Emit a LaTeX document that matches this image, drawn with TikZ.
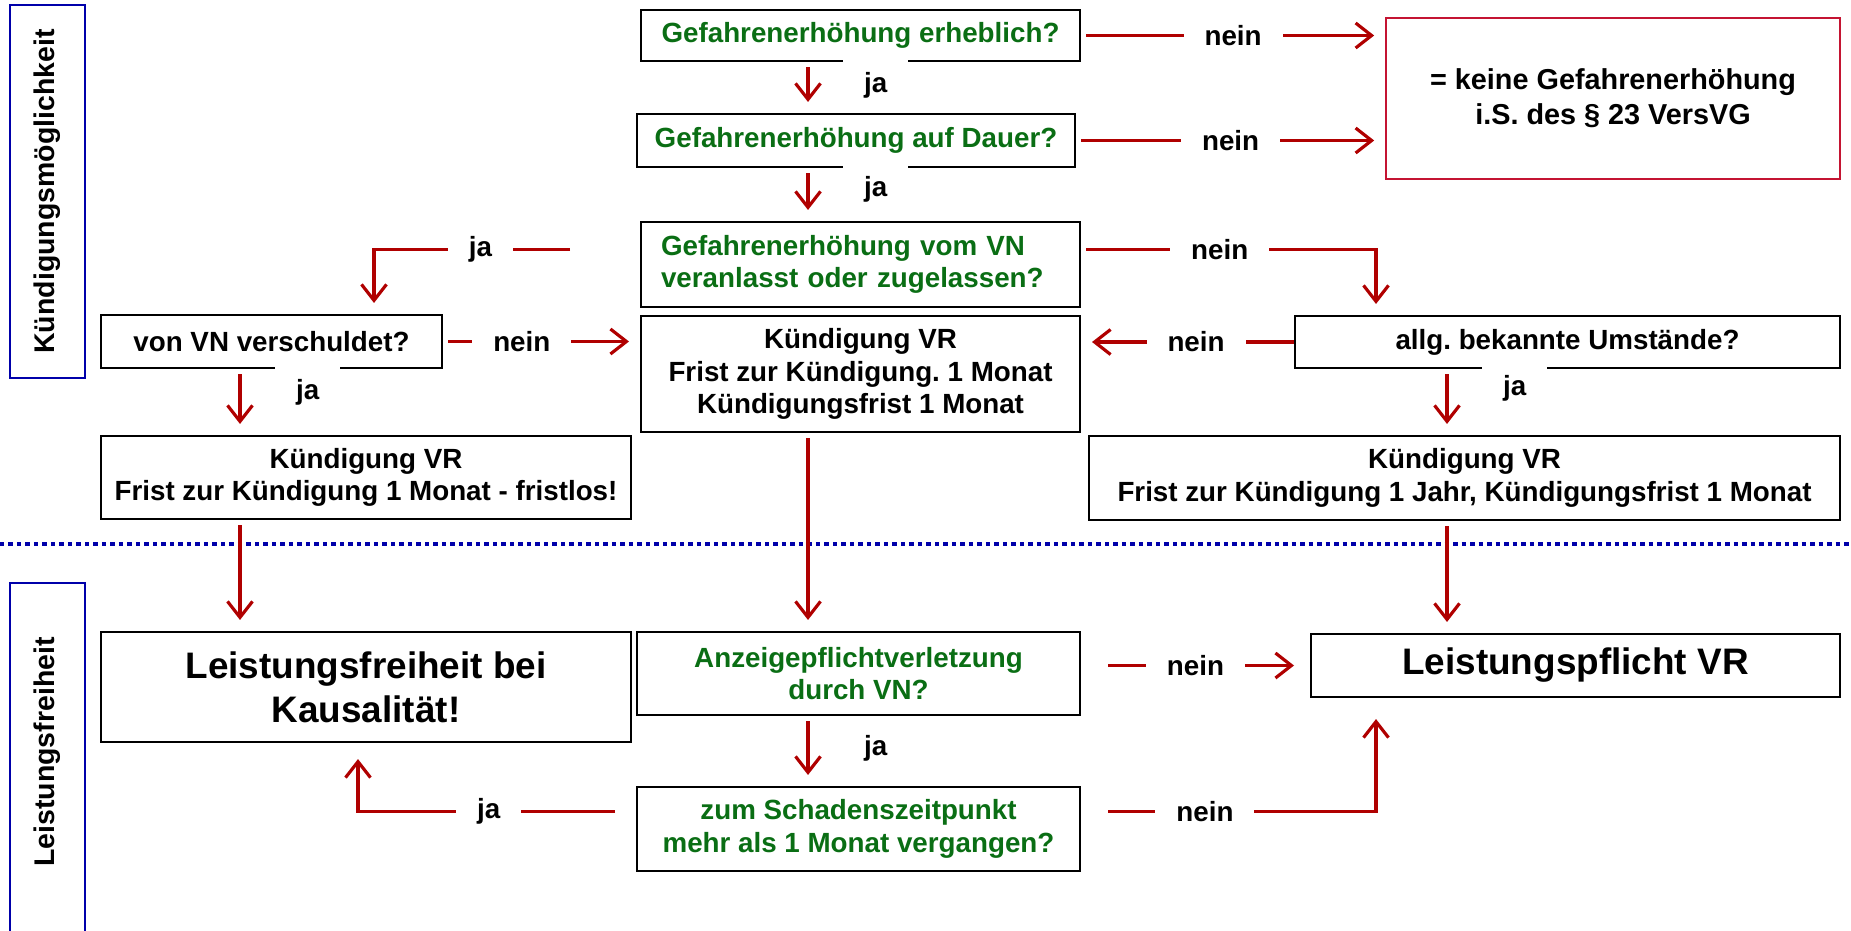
\documentclass[tikz,border=0pt]{standalone}
\usepackage{fontspec}
\setmainfont{Liberation Sans}
\usetikzlibrary{arrows.meta}
\usetikzlibrary{positioning}
\definecolor{arrowred}{RGB}{176,0,0}
\definecolor{boxred}{RGB}{196,20,50}
\definecolor{qgreen}{RGB}{10,110,20}
\definecolor{laneblue}{RGB}{0,0,170}
\frenchspacing

\begin{document}
\begin{tikzpicture}[x=0.02cm,y=-0.02cm,>={Straight Barb[length=0.32cm,width=0.5cm]},
    box/.style={draw,line width=1.2pt,inner sep=0pt,align=center,font=\bfseries\fontsize{15.8}{18.4}\selectfont},
    question/.style={box,text=qgreen},
    big box/.style={box,font=\bfseries\fontsize{21}{25}\selectfont},
    lane/.style={draw=laneblue,line width=1pt,inner sep=0pt,font=\bfseries\fontsize{16.2}{19}\selectfont},
    arr/.style={->,draw=arrowred,line width=1.8pt,shorten <=0.1cm,shorten >=0.22cm},
    lab/.style={fill=white,inner xsep=0.42cm,inner ysep=0pt,minimum width=1.3cm,minimum height=1.04cm,font=\bfseries\fontsize{15.8}{18.4}\selectfont}]
  \useasboundingbox (0,0) rectangle (1851,930);
  % columns for the vertical arrows
  \coordinate (xl) at (240,0);
  \coordinate (xj) at (374,0);
  \coordinate (xf) at (358,0);
  \coordinate (xa) at (808,0);
  \coordinate (xk) at (1376,0);
  \coordinate (xr) at (1447,0);
  % separator
  \draw[laneblue,line width=2.2pt,dash pattern=on 0.09cm off 0.08cm] (0,544) -- (1851,544);
  % lanes
  \node[lane,minimum width=1.5cm,minimum height=7.46cm] (s1) at (47.5,191.5) {\rotatebox{90}{Kündigungsmöglichkeit}};
  \node[lane,minimum width=1.5cm,minimum height=7.14cm] (s2) at (47.5,761.5) {};
  \node[font=\bfseries\fontsize{16.2}{19}\selectfont] (s2t) at (47.5,752) {\rotatebox{90}{Leistungsfreiheit}};
  % questions
  \node[question,minimum width=8.78cm,minimum height=1.02cm] (g1) at (860.5,35.5) {Gefahrenerhöhung erheblich?};
  \node[question,minimum width=8.76cm,minimum height=1.06cm] (g2) at (856,140.5) {Gefahrenerhöhung auf Dauer?};
  \node[question,text width=7.98cm,align=left,inner xsep=0.4cm,minimum height=1.7cm] (g3) at (860.5,264.5) {Gefahrenerhöhung vom VN\\veranlasst oder zugelassen?};
  \node[box,minimum width=6.82cm,minimum height=1.06cm] (vn) at (271.5,341.5) {von VN verschuldet?};
  \node[box,minimum width=10.9cm,minimum height=1.04cm] (au) at (1567.5,342) {allg. bekannte Umstände?};
  \node[question,minimum width=8.86cm,minimum height=1.66cm] (az) at (858.5,673.5) {Anzeigepflichtverletzung\\durch VN?};
  \node[question,minimum width=8.86cm,minimum height=1.68cm] (zs) at (858.5,829) {zum Schadenszeitpunkt\\mehr als 1 Monat vergangen?};
  % results
  \node[box,draw=boxred,line width=1pt,minimum width=9.08cm,minimum height=3.22cm,font=\bfseries\fontsize{16.4}{20}\selectfont] (rb) at (1613,98.5) {= keine Gefahrenerhöhung\\i.S. des § 23 VersVG};
  \node[box,minimum width=8.78cm,minimum height=2.32cm] (k1) at (860.5,374) {Kündigung VR\\Frist zur Kündigung. 1 Monat\\Kündigungsfrist 1 Monat};
  \node[box,minimum width=10.6cm,minimum height=1.66cm] (kl) at (366,477.5) {Kündigung VR\\Frist zur Kündigung 1 Monat - fristlos!};
  \node[box,minimum width=15.02cm,minimum height=1.68cm] (kr) at (1464.5,478) {Kündigung VR\\Frist zur Kündigung 1 Jahr, Kündigungsfrist 1 Monat};
  \node[big box,minimum width=10.6cm,minimum height=2.2cm] (lf) at (366,687) {Leistungsfreiheit bei\\Kausalität!};
  \node[big box,minimum width=10.58cm,minimum height=1.26cm] (lp) at (1575.5,665.5) {Leistungspflicht VR};
  % ja
  \draw[arr] (g1.south -| xa) -- node[lab,pos=0.45,right=0.67cm] {ja} (g2.north -| xa);
  \draw[arr] (g2.south -| xa) -- node[lab,pos=0.4,right=0.67cm] {ja} (g3.north -| xa);
  \draw[arr,shorten <=1.4cm] ([yshift=0.3cm]g3.west) -| node[lab,pos=0.3] {ja} (xj |- vn.north);
  \draw[arr] (vn.south -| xl) -- node[lab,pos=0.35,right=0.67cm] {ja} (kl.north -| xl);
  \draw[arr] (au.south -| xr) -- node[lab,pos=0.29,right=0.67cm] {ja} (kr.north -| xr);
  \draw[arr] (az.south -| xa) -- node[lab,pos=0.46,right=0.67cm] {ja} (zs.north -| xa);
  \draw[arr,shorten <=0.42cm,shorten >=0.32cm] ([yshift=0.35cm]zs.west) -| node[lab,pos=0.265] {ja} (xf |- lf.south);
  % nein
  \draw[arr] (g1.east) -- node[lab] {nein} (g1.east -| rb.west);
  \draw[arr] (g2.east) -- node[lab] {nein} (g2.east -| rb.west);
  \draw[arr] ([yshift=0.3cm]g3.east) -| node[lab,pos=0.235] {nein} (xk |- au.north);
  \draw[arr] (vn.east) -- node[lab,pos=0.4] {nein} (vn.east -| k1.west);
  \draw[arr,shorten <=0pt] (au.west) -- node[lab,pos=0.46] {nein} (au.west -| k1.east);
  \draw[arr,shorten <=0.54cm,shorten >=0.32cm] (az.east |- lp.west) -- node[lab] {nein} (lp.west);
  \draw[arr,shorten <=0.54cm,shorten >=0.42cm] ([yshift=0.35cm]zs.east) -| node[lab,pos=0.21] {nein} (xk |- lp.south);
  % down
  \draw[arr] (k1.south -| xa) -- (az.north -| xa);
  \draw[arr] (kl.south -| xl) -- (lf.north -| xl);
  \draw[arr] (kr.south -| xr) -- (lp.north -| xr);
\end{tikzpicture}
\end{document}
